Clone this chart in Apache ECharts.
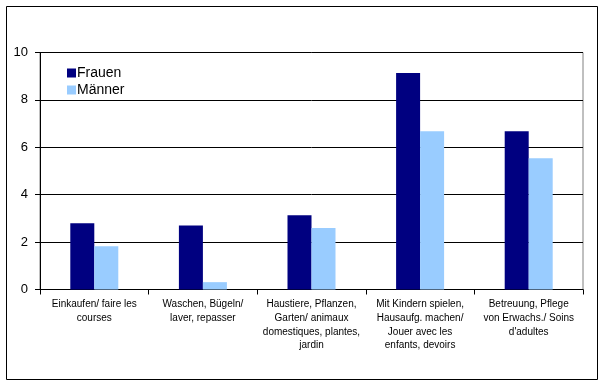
<!DOCTYPE html>
<html>
<head>
<meta charset="utf-8">
<script src="https://cdn.jsdelivr.net/npm/echarts@6/dist/echarts.min.js"></script>
<style>
html,body{margin:0;padding:0;background:#fff;}
#chart{width:606px;height:387px;}
</style>
</head>
<body>
<div id="chart"></div>
<script>
const categories = [
  "Einkaufen/ faire les\ncourses",
  "Waschen, Bügeln/\nlaver, repasser",
  "Haustiere, Pflanzen,\nGarten/ animaux\ndomestiques, plantes,\njardin",
  "Mit Kindern spielen,\nHausaufg. machen/\nJouer avec les\nenfants, devoirs",
  "Betreuung, Pflege\nvon Erwachs./ Soins\nd'adultes"
];
const seriesNames = ["Frauen", "Männer"];
const frauen = [2.8, 2.7, 3.13, 9.13, 6.68];
const maenner = [1.83, 0.31, 2.59, 6.68, 5.54];
const yTicks = { min: 0, max: 10, interval: 2 };

const chart = echarts.init(document.getElementById('chart'), null, { renderer: 'canvas' });
const font = '"Liberation Sans", Arial, sans-serif';
chart.setOption({
  animation: false,
  backgroundColor: '#ffffff',
  graphic: [{
    type: 'rect',
    shape: { x: 6.5, y: 6.5, width: 591, height: 373 },
    style: { fill: 'none', stroke: '#000', lineWidth: 1 },
    silent: true
  }],
  legend: {
    orient: 'vertical',
    left: 62,
    top: 60,
    itemWidth: 9,
    itemHeight: 9,
    itemGap: 1,
    icon: 'rect',
    textStyle: { fontFamily: font, fontSize: 14, color: '#000', padding: [0, 0, 0, -4], lineHeight: 16 },
    data: seriesNames
  },
  grid: {
    left: 40, right: 23, top: 52.5, bottom: 97.5,
    show: true, borderColor: '#808080', borderWidth: 1,
    containLabel: false
  },
  xAxis: {
    type: 'category',
    data: categories,
    axisLine: { lineStyle: { color: '#000', width: 1 } },
    axisTick: { show: true, length: 5, lineStyle: { color: '#000' }, interval: 0 },
    axisLabel: {
      interval: 0, margin: 8, fontFamily: font, fontSize: 10, color: '#000',
      lineHeight: 13.7, align: 'center'
    }
  },
  yAxis: {
    type: 'value',
    min: yTicks.min, max: yTicks.max, interval: yTicks.interval,
    axisLine: { show: true, lineStyle: { color: '#000', width: 1 } },
    axisTick: { show: true, length: 5, lineStyle: { color: '#000' } },
    axisLabel: { fontFamily: font, fontSize: 13, color: '#000', margin: 12 },
    splitLine: { show: true, lineStyle: { color: '#000', width: 1 } }
  },
  series: [
    { name: seriesNames[0], type: 'bar', data: frauen, barWidth: 24, barGap: '0%',
      itemStyle: { color: '#000080' } },
    { name: seriesNames[1], type: 'bar', data: maenner, barWidth: 24, barGap: '0%',
      itemStyle: { color: '#99CCFF' } }
  ]
});
</script>
</body>
</html>
